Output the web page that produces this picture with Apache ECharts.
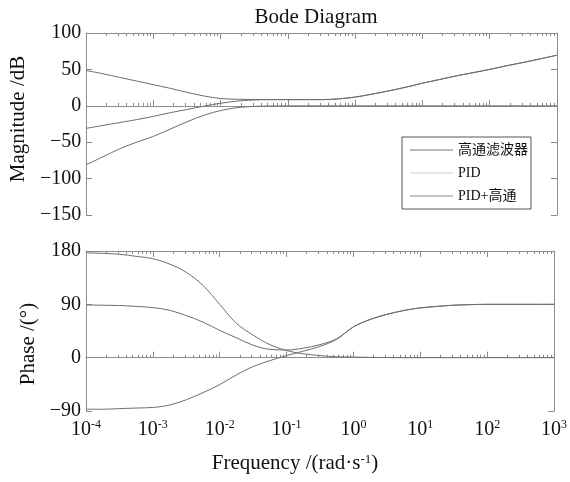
<!DOCTYPE html>
<html>
<head>
<meta charset="utf-8">
<script src="https://cdn.jsdelivr.net/npm/echarts@6/dist/echarts.min.js"></script>
<style>
html, body { margin: 0; padding: 0; background: #fff; }
#bode { width: 570px; height: 482px; }
</style>
</head>
<body>
<div id="bode"></div>
<script>
// frequency points (rad/s), quarter decades from 1e-4 to 1e3
var freq = [1e-4, 1.778e-4, 3.162e-4, 5.623e-4, 1e-3, 1.778e-3, 3.162e-3, 5.623e-3,
	1e-2, 1.778e-2, 3.162e-2, 5.623e-2, 0.1, 0.1778, 0.3162, 0.5623,
	1, 1.778, 3.162, 5.623, 10, 17.78, 31.62, 56.23, 100, 177.8, 316.2, 562.3, 1000];

// magnitude (dB)
var magHP = [-81, -70, -59, -50, -42, -32, -22, -13, -6.5, -2.5, -0.8, -0.3, -0.1,
	0, 0, 0, 0, 0, 0, 0, 0, 0, 0, 0, 0, 0, 0, 0, 0];
var magPID = [48.5, 44, 39, 34, 29, 24, 18.5, 13.5, 10, 9, 8.7, 8.5, 8.5, 8.5, 8.5, 9.5,
	12, 16, 20.5, 25.5, 31, 36, 41, 45.5, 50, 55, 59.5, 64.5, 69.5];
var magPIDHP = [-31, -27, -23, -19, -14.5, -9.5, -5, -0.5, 3.5, 6.5, 8, 8.5, 8.5, 8.5, 8.5, 9.5,
	12, 16, 20.5, 25.5, 31, 36, 41, 45.5, 50, 55, 59.5, 64.5, 69.5];

// phase (deg)
var phHP = [177, 176, 174.5, 171, 167, 158, 144, 122, 90, 58, 38, 22, 12, 6.5, 3.5, 1.5,
	1, 0.5, 0.2, 0, 0, 0, 0, 0, 0, 0, 0, 0, 0];
var phPID = [-87, -87, -86, -85, -84, -80, -71, -59, -45.5, -29, -15, -5, 3.5, 11, 19, 31,
	52, 64.5, 73, 79.5, 84, 86.5, 88.5, 89.5, 90, 90, 90, 90, 90];
var phPIDHP = [89, 88.5, 88, 86.5, 84.5, 80, 71, 60, 46, 33.5, 21, 14, 13, 16, 22, 32,
	52, 64.5, 73, 79.5, 84, 86.5, 88.5, 89.5, 90, 90, 90, 90, 90];

var names = ['高通滤波器', 'PID', 'PID+高通'];
var xMajor = [1e-4, 1e-3, 1e-2, 1e-1, 1, 10, 100, 1000];

// minor ticks at 2..9 x each decade
var xMinor = [];
for (var d = 0; d < xMajor.length - 1; d++) {
	for (var m = 2; m <= 9; m++) xMinor.push(+(xMajor[d] * m).toPrecision(3));
}

var font = "'Liberation Serif', 'Noto Sans CJK SC', serif";
var frame = '#8c8c8c';
var curve = '#6e6e6e';

var pairs = function(ys) {
	return freq.map(function(f, i) { return [f, ys[i]]; });
};

var xAxisOf = function(grid, pos, ticks, len, withLine) {
	return {
		type: 'log', logBase: 10, gridIndex: grid, position: pos,
		min: 1e-4, max: 1e3,
		axisLine: { show: withLine, lineStyle: { color: frame, width: 1 } },
		axisTick: { show: true, inside: true, length: len, customValues: ticks, lineStyle: { color: frame } },
		axisLabel: { show: false },
		splitLine: { show: false }
	};
};

var xAxes = [
	xAxisOf(0, 'bottom', xMajor, 6, true),
	xAxisOf(0, 'bottom', xMinor, 3, false),
	xAxisOf(0, 'top', xMajor, 6, true),
	xAxisOf(0, 'top', xMinor, 3, false),
	xAxisOf(1, 'bottom', xMajor, 6, true),
	xAxisOf(1, 'bottom', xMinor, 3, false),
	xAxisOf(1, 'top', xMajor, 6, true),
	xAxisOf(1, 'top', xMinor, 3, false)
];
// frequency labels under the phase plot
xAxes[4].axisLabel = {
	show: true, customValues: xMajor, margin: 8,
	formatter: function(v) {
		return '{a|10}{b|' + Math.round(Math.log10(v)) + '}';
	},
	rich: {
		a: { fontFamily: font, fontSize: 20, color: '#111', lineHeight: 22 },
		b: { fontFamily: font, fontSize: 12, color: '#111', verticalAlign: 'top', lineHeight: 13 }
	}
};
xAxes[4].name = 'Frequency /(rad·s{b|-1})';
xAxes[4].nameLocation = 'middle';
xAxes[4].nameGap = 42;
xAxes[4].nameTextStyle = {
	fontFamily: font, fontSize: 21, color: '#111', padding: [0, 50, 0, 0],
	rich: { b: { fontFamily: font, fontSize: 13, color: '#111', verticalAlign: 'top', lineHeight: 14 } }
};

var yAxisOf = function(grid, pos, min, max, step, name, gap, pad) {
	var show = pos == 'left';
	return {
		type: 'value', gridIndex: grid, position: pos,
		min: min, max: max, interval: step,
		name: show ? name : '', nameLocation: 'middle', nameGap: gap,
		nameTextStyle: { fontFamily: font, fontSize: 21, color: '#111', padding: pad },
		axisLine: { show: true, lineStyle: { color: frame, width: 1 } },
		axisTick: { show: true, inside: true, length: 6, lineStyle: { color: frame } },
		axisLabel: {
			show: show, margin: 5, fontFamily: font, fontSize: 20, color: '#111',
			formatter: function(v) { return String(v).replace('-', '\u2212'); }
		},
		splitLine: { show: false }
	};
};

var series = [];
var mags = [magHP, magPID, magPIDHP];
var phs = [phHP, phPID, phPIDHP];
for (var k = 0; k < 3; k++) {
	series.push({
		name: names[k], type: 'line', xAxisIndex: 0, yAxisIndex: 0,
		data: pairs(mags[k]), symbol: 'none', smooth: 0.35,
		lineStyle: { color: curve, width: 1 }, itemStyle: { color: curve }
	});
	series.push({
		name: names[k], type: 'line', xAxisIndex: 4, yAxisIndex: 2,
		data: pairs(phs[k]), symbol: 'none', smooth: 0.35,
		lineStyle: { color: curve, width: 1 }, itemStyle: { color: curve }
	});
}

var chart = echarts.init(document.getElementById('bode'), null, { renderer: 'canvas' });
chart.setOption({
	backgroundColor: '#fff',
	animation: false,
	title: {
		text: 'Bode Diagram', left: 311, top: 2, textAlign: 'center',
		textStyle: { fontFamily: font, fontSize: 21, fontWeight: 'normal', color: '#111' }
	},
	legend: {
		orient: 'vertical', left: 402, top: 137,
		padding: [5, 3, 5, 8], itemGap: 7, itemWidth: 43, itemHeight: 1,
		icon: 'rect',
		backgroundColor: '#fff', borderColor: '#555', borderWidth: 1, borderRadius: 0,
		textStyle: { fontFamily: font, fontSize: 14, color: '#111', lineHeight: 16 },
		data: [
			{ name: names[0], icon: 'rect', itemStyle: { color: '#7a7a7a', borderWidth: 0 } },
			{ name: names[1], icon: 'rect', itemStyle: { color: '#cfcfcf', borderWidth: 0 } },
			{ name: names[2], icon: 'rect', itemStyle: { color: '#8a8a8a', borderWidth: 0 } }
		]
	},
	grid: [
		{ left: 86, top: 33, width: 471, height: 182 },
		{ left: 86, top: 251, width: 471, height: 160 }
	],
	xAxis: xAxes,
	yAxis: [
		yAxisOf(0, 'left', -150, 100, 50, 'Magnitude /dB', 56, [0, 0, 0, 10]),
		yAxisOf(0, 'right', -150, 100, 50, '', 0, 0),
		yAxisOf(1, 'left', -90, 180, 90, 'Phase /(°)', 47, [0, 26, 0, 0]),
		yAxisOf(1, 'right', -90, 180, 90, '', 0, 0)
	],
	series: series
});
</script>
</body>
</html>
